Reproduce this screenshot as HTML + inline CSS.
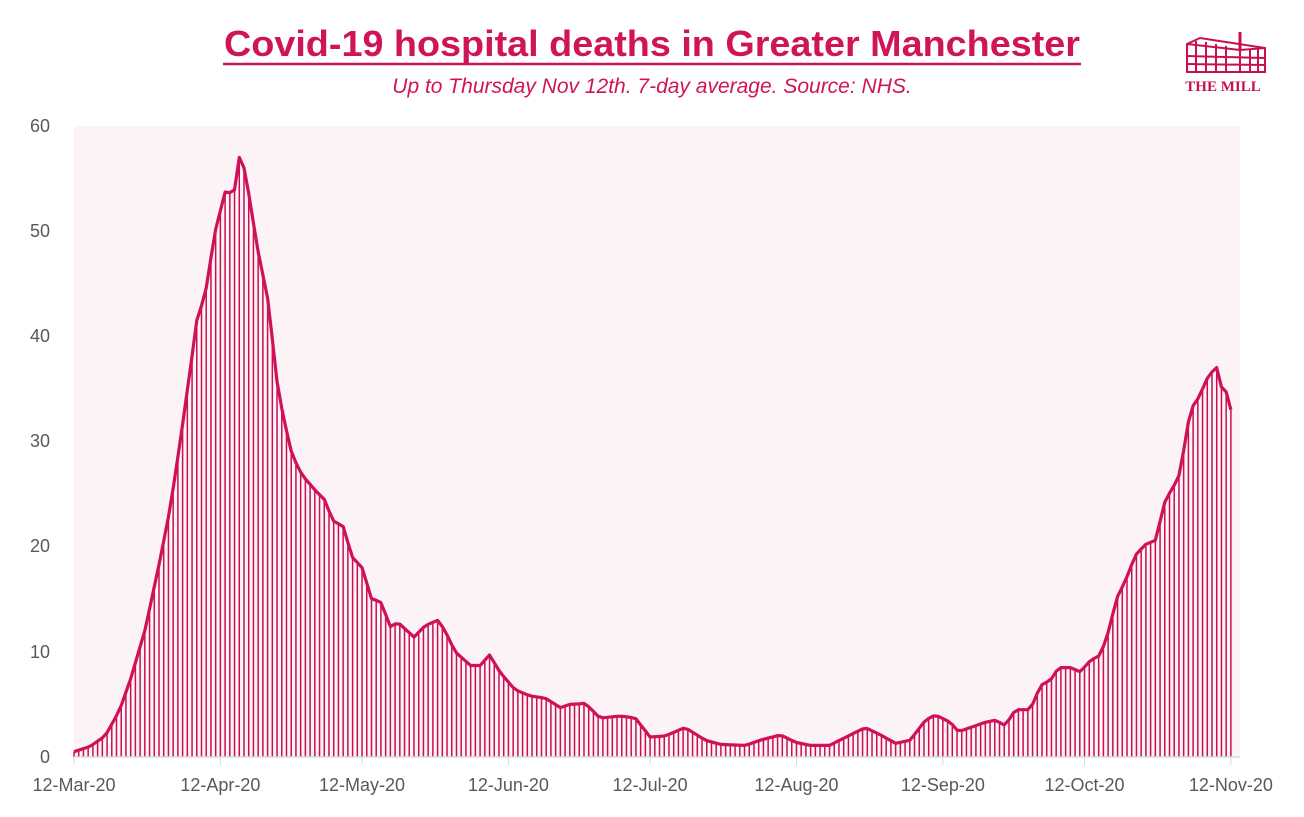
<!DOCTYPE html>
<html><head><meta charset="utf-8"><style>
body{margin:0;width:1304px;height:812px;background:#fff;overflow:hidden;font-family:"Liberation Sans",sans-serif}
</style></head><body>
<svg id="s" width="1304" height="812" xmlns="http://www.w3.org/2000/svg">
<rect x="74" y="126" width="1166" height="631" fill="#fcf3f6"/>
<text x="652" y="56" text-anchor="middle" font-size="36" font-weight="bold" fill="#d01458" font-family="Liberation Sans, sans-serif" textLength="856" lengthAdjust="spacingAndGlyphs">Covid-19 hospital deaths in Greater Manchester</text>
<line x1="223" y1="64" x2="1081" y2="64" stroke="#d01458" stroke-width="2.5"/>
<text x="652" y="93" text-anchor="middle" font-size="21" font-style="italic" fill="#d01458">Up to Thursday Nov 12th. 7-day average. Source: NHS.</text>
<g id="logo" stroke="#c8104f" fill="none" stroke-width="2">
<path d="M1187 72 L1187 44 L1200 38 L1265 48 L1265 72 Z"/>
<path d="M1187 44 L1240 50 L1265 48 M1240 50 L1240 72"/>
<line x1="1240" y1="32" x2="1240" y2="50" stroke-width="3"/>
<path d="M1187 56 L1265 58 M1187 64 L1265 65 M1196 41 V72 M1206 42 V72 M1216 44 V72 M1226 46 V72 M1250 49 V72 M1258 49 V72"/>
</g>
<text x="1223" y="91" text-anchor="middle" font-size="15" font-weight="bold" fill="#c8104f" font-family="Liberation Serif, serif">THE MILL</text>
<g id="bars" stroke="#c8104f" stroke-width="1.5"></g>
<polyline id="ln" fill="none" stroke="#d0105a" stroke-width="3.2" stroke-linejoin="round"/>
<line x1="74" y1="757" x2="1240" y2="757" stroke="#d9d9d9" stroke-width="1.5"/>
<g font-size="18" fill="#595959" text-anchor="end">
<text x="50" y="763">0</text><text x="50" y="658">10</text><text x="50" y="552">20</text><text x="50" y="447">30</text><text x="50" y="342">40</text><text x="50" y="237">50</text><text x="50" y="132">60</text>
</g>
<g id="xt" font-size="18" fill="#595959" text-anchor="middle"></g>
</svg>
<script>
var k=[[0,.5],[3.4,1],[6.6,2],[9.7,4.5],[11.9,7.3],[15,12],[18.2,18.7],[20.3,23.5],[22.5,30],[24.6,36.8],[26,41.5],[27.8,44],[29.9,50],[32,53.7],[33.9,53.6],[35,57],[36.2,55.8],[39,48],[41.1,43.4],[43.2,34.9],[44.7,31.6],[46.2,28.7],[48.3,26.8],[51,25.4],[53.2,24.4],[54.7,22.5],[57.4,21.8],[58.5,19.2],[61,18],[63.1,14.9],[64.8,14.9],[67,12.4],[68.6,12.8],[72,11.4],[74.4,12.5],[77.1,13],[78.6,12],[80.7,10],[84,8.7],[86,8.7],[88,9.7],[90.3,8],[93.4,6.4],[96.6,5.8],[99.8,5.6],[103,4.7],[105,5],[108.3,5.1],[111.4,3.7],[115.7,3.9],[118.9,3.7],[122,1.9],[125.2,2],[129.4,2.8],[133.7,1.6],[136.9,1.2],[142.2,1.1],[145.3,1.6],[149.6,2.1],[152.8,1.4],[156,1.1],[160,1.1],[164.4,2.1],[167.6,2.8],[170.8,2.1],[174,1.3],[177.1,1.6],[180.3,3.5],[182.4,4],[185.6,3.3],[187.3,2.4],[189.8,2.8],[193,3.3],[195.1,3.5],[197.2,3],[199.4,4.5],[202.5,4.5],[204.7,6.8],[206.8,7.3],[208.5,8.5],[211,8.5],[213.1,8.1],[215.3,9.2],[217.4,9.7],[219.5,12.5],[220.6,14.9],[222.7,16.8],[224.8,19.2],[226.9,20.2],[229,20.6],[231.1,24.4],[233.9,26.5],[235.4,30.1],[236.4,33],[238.1,34.1],[240.3,36.3],[242.2,37.1],[243.2,34.7],[244.3,34.7],[245,33]];
function v(d){for(var i=1;i<k.length;i++){if(d<=k[i][0]){var a=k[i-1],b=k[i];return a[1]+(b[1]-a[1])*(d-a[0])/(b[0]-a[0]);}}return k[k.length-1][1];}
var X=d=>74+4.722*d,Y=t=>757-10.52*t,ns="http://www.w3.org/2000/svg";
var g=document.getElementById('bars'),pts=[];
for(var d=0;d<=245;d++){var x=X(d),y=Y(v(d));pts.push(x.toFixed(1)+","+y.toFixed(1));
var l=document.createElementNS(ns,'line');l.setAttribute('x1',x);l.setAttribute('x2',x);l.setAttribute('y1',y);l.setAttribute('y2',757);g.appendChild(l);}
document.getElementById('ln').setAttribute('points',pts.join(' '));
var lab=["12-Mar-20","12-Apr-20","12-May-20","12-Jun-20","12-Jul-20","12-Aug-20","12-Sep-20","12-Oct-20","12-Nov-20"],days=[0,31,61,92,122,153,184,214,245],xt=document.getElementById('xt');
days.forEach(function(d,i){var t=document.createElementNS(ns,'text');t.setAttribute('x',X(d));t.setAttribute('y',791);t.textContent=lab[i];xt.appendChild(t);
var m=document.createElementNS(ns,'line');m.setAttribute('x1',X(d));m.setAttribute('x2',X(d));m.setAttribute('y1',757);m.setAttribute('y2',765);m.setAttribute('stroke','#d9d9d9');xt.appendChild(m);});
</script>
</body></html>
